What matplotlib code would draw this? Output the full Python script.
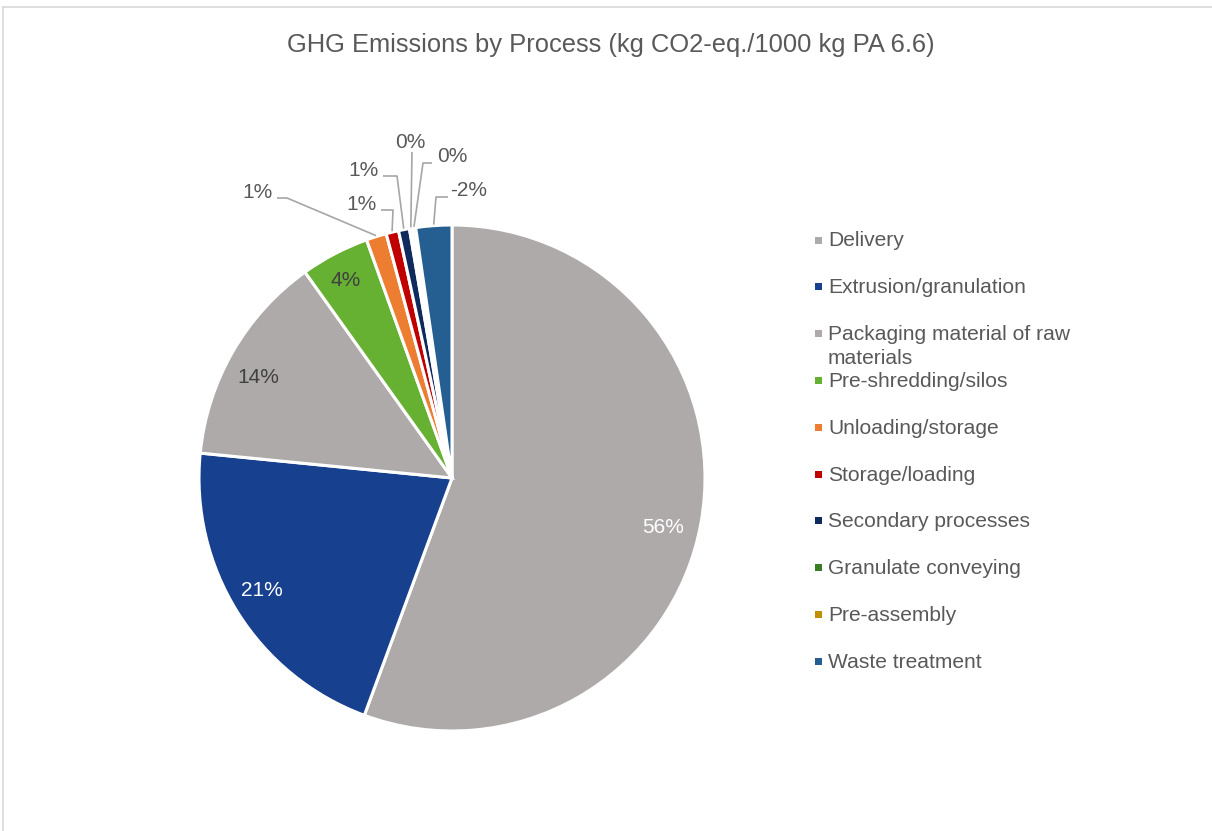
import matplotlib.pyplot as plt
import numpy as np

# shares of GHG emissions per process (Waste treatment is a credit)
processes = ["Delivery", "Extrusion/granulation", "Packaging material of raw\nmaterials",
             "Pre-shredding/silos", "Unloading/storage", "Storage/loading",
             "Secondary processes", "Granulate conveying", "Pre-assembly", "Waste treatment"]
values = [55.8, 21.0, 13.6, 4.4, 1.3, 0.8, 0.7, 0.2, 0.2, -2.3]
colors = ["#AEAAAA", "#17408F", "#AEAAAA", "#66B032", "#ED7D31", "#C00000",
          "#0F2A5C", "#3A7D22", "#BF9000", "#255E91"]

plt.rcParams["font.family"] = ["Liberation Sans", "DejaVu Sans"]

W, H = 1212, 831
fig = plt.figure(figsize=(W / 100, H / 100), dpi=100)
ax = fig.add_axes([0, 0, 1, 1])

cx, cy, r = 452, 478, 253
sizes = np.abs(values)
total = sizes.sum()
pcts = [f"{v / total * 100:.0f}%" for v in values]

wedges, _ = ax.pie(sizes, colors=colors, startangle=-90, counterclock=True,
                   center=(cx, cy), radius=r,
                   wedgeprops=dict(edgecolor="white", linewidth=2.2))
ax.set_xlim(0, W)
ax.set_ylim(H, 0)
ax.set_aspect("auto")
ax.axis("off")

# labels inside the big slices (small nudges like Excel's placement)
inside_colors = ["white", "white", "#404040", "#404040"]
inside_rad = [0.856, 0.872, 0.864, 0.888]
inside_nudge = [3.0, 1.5, -2.6, -0.6]
for i in range(4):
    m = np.deg2rad((wedges[i].theta1 + wedges[i].theta2) / 2 + inside_nudge[i])
    ax.text(cx + inside_rad[i] * r * np.cos(m), cy + inside_rad[i] * r * np.sin(m), pcts[i],
            ha="center", va="center", fontsize=15, color=inside_colors[i])

# outside labels with leader lines for the small slices
label_xy = [(257, 193), (361, 205), (363, 171), (410, 142), (452, 157), (469, 191)]
leader_pts = [[(277, 198), (287, 198)], [(381, 210), (393, 210)], [(383, 176), (397, 176)],
              [(412, 152)], [(432, 163), (423, 163)], [(448, 197), (436, 197)]]
for k, i in enumerate(range(4, 10)):
    m = np.deg2rad((wedges[i].theta1 + wedges[i].theta2) / 2)
    anchor = (cx + (r + 1) * np.cos(m), cy + (r + 1) * np.sin(m))
    pts = leader_pts[k] + [anchor]
    ax.plot([p[0] for p in pts], [p[1] for p in pts], color="#A6A6A6", lw=1.2,
            solid_capstyle="butt")
    ax.text(label_xy[k][0], label_xy[k][1], pcts[i], ha="center", va="center",
            fontsize=15, color="#595959")

# title
ax.text(611, 45, "GHG Emissions by Process (kg CO2-eq./1000 kg PA 6.6)",
        ha="center", va="center", fontsize=18.4, color="#595959")

# legend drawn by hand (Excel style, square markers)
row_y = 240
for name, col in zip(processes, colors):
    ax.add_patch(plt.Rectangle((815, row_y - 3.5), 7, 7, color=col, lw=0))
    for j, line in enumerate(name.split("\n")):
        ax.text(828, row_y + 1 + j * 23.4, line, ha="left", va="center",
                fontsize=15.1, color="#595959")
    row_y += 46.8

# chart frame (only left and top edges are visible)
ax.plot([3, 3], [H, 7], color="#D9D9D9", lw=1.2)
ax.plot([3, W], [7, 7], color="#D9D9D9", lw=1.2)

plt.savefig("out.png", dpi=100)
